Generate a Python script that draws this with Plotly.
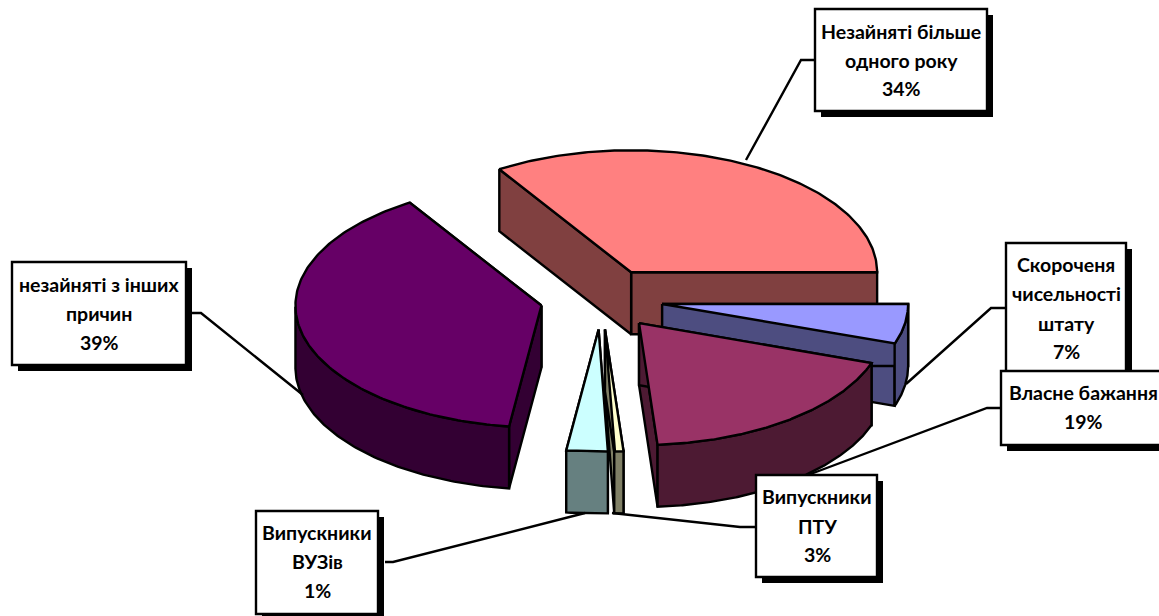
import numpy as np
import plotly.graph_objects as go

# Shares of the circle as drawn, anticlockwise from the east (percent)
slice_names = ["Незайняті більше одного року", "незайняті з інших причин", "Випускники ВУЗів",
               "Випускники ПТУ", "Власне бажання", "Скороченя чисельності штату"]
slice_shares = [34.0, 38.9, 2.7, 0.6, 18.5, 5.3]
top_colors = ["#FF8080", "#660066", "#CCFFFF", "#FFFFCC", "#993366", "#9999FF"]
side_colors = ["#804040", "#330033", "#668080", "#808066", "#4D1A33", "#4D4D80"]
paint_order = [0, 5, 4, 1, 2, 3]

# Printed labels: list of lines per slice
label_lines = [
    ["Незайняті більше", "одного року", "34%"],
    ["незайняті з інших", "причин", "39%"],
    ["Випускники", "ВУЗів", "1%"],
    ["Випускники", "ПТУ", "3%"],
    ["Власне бажання", "19%"],
    ["Скороченя", "чисельності", "штату", "7%"],
]
label_centers_x = [901, 99, 317, 817, 1083, 1066]
label_lines_y = [[32, 61, 89], [285, 314, 343], [533, 562, 591], [497, 527, 555], [393, 422], [265, 294, 324, 352]]
boxes = [[815, 9, 987, 111], [12, 262, 186, 365], [256, 511, 378, 614], [756, 475, 877, 577],
         [1001, 371, 1175, 445], [1006, 243, 1126, 400]]
box_order = [0, 1, 2, 5, 4, 3]
leaders_x = [[815, 801, 746], [192, 201, 303], [385, 393, 585], [756, 740, 612], [1001, 987, 808], [1006, 991, 906]]
leaders_y = [[60, 60, 160], [313, 313, 395], [562, 562, 513], [527, 527, 513], [408, 408, 475], [308, 308, 384]]

CX, CY, RX, RY, DEPTH, EXPLODE = 601.5, 299, 246, 122, 62, 0.25
SHADOW = 6
LINE_W = 2.4
FONT = "Lato, Carlito, 'Noto Sans', sans-serif"

fig = go.Figure()


def poly(xs, ys, color):
    xs = list(xs) + [xs[0]]
    ys = list(ys) + [ys[0]]
    fig.add_trace(go.Scatter(x=xs, y=ys, mode="lines", fill="toself", fillcolor=color,
                             line=dict(color="black", width=LINE_W), hoverinfo="skip", showlegend=False))


edges = np.cumsum([0.0] + slice_shares) * 3.6
for i in paint_order:
    a0, a1 = edges[i], edges[i + 1]
    mid = np.radians((a0 + a1) / 2)
    ax = CX + EXPLODE * RX * np.cos(mid)
    ay = CY - EXPLODE * RY * np.sin(mid)
    th = np.radians(np.linspace(a0, a1, 160))
    ex = ax + RX * np.cos(th)
    ey = ay - RY * np.sin(th)
    # radial walls
    for k in (0, -1):
        poly([ax, ex[k], ex[k], ax], [ay, ey[k], ey[k] + DEPTH, ay + DEPTH], side_colors[i])
    # outer wall (front half only)
    front = np.sin(th) <= 0
    if front.sum() > 1:
        fx, fy = ex[front], ey[front]
        poly(list(fx) + list(fx[::-1]), list(fy) + list(fy[::-1] + DEPTH), side_colors[i])
    # top
    poly([ax] + list(ex), [ay] + list(ey), top_colors[i])

for lx, ly in zip(leaders_x, leaders_y):
    fig.add_trace(go.Scatter(x=lx, y=ly, mode="lines", line=dict(color="black", width=LINE_W),
                             hoverinfo="skip", showlegend=False))

shapes = []
for i in box_order:
    x0, y0, x1, y1 = boxes[i]
    shapes.append(dict(type="rect", x0=x0 + SHADOW, y0=y0 + SHADOW, x1=x1 + SHADOW, y1=y1 + SHADOW,
                       fillcolor="black", line=dict(width=0), layer="above"))
    shapes.append(dict(type="rect", x0=x0, y0=y0, x1=x1, y1=y1, fillcolor="white",
                       line=dict(color="black", width=LINE_W), layer="above"))

annotations = []
for i in range(len(label_lines)):
    for txt, y in zip(label_lines[i], label_lines_y[i]):
        annotations.append(dict(x=label_centers_x[i], y=y, yshift=1, text=f"<b>{txt}</b>", showarrow=False,
                                xanchor="center", yanchor="middle",
                                font=dict(family=FONT, size=19.5, color="black")))

fig.update_layout(
    width=1159, height=616, margin=dict(l=0, r=0, t=0, b=0),
    paper_bgcolor="white", plot_bgcolor="white", showlegend=False,
    xaxis=dict(range=[0, 1159], visible=False, fixedrange=True),
    yaxis=dict(range=[616, 0], visible=False, fixedrange=True),
    shapes=shapes, annotations=annotations,
)
fig.write_html("out.html", config={"displayModeBar": False},
               post_script="document.body.style.margin='0';document.documentElement.style.overflow='hidden';")
